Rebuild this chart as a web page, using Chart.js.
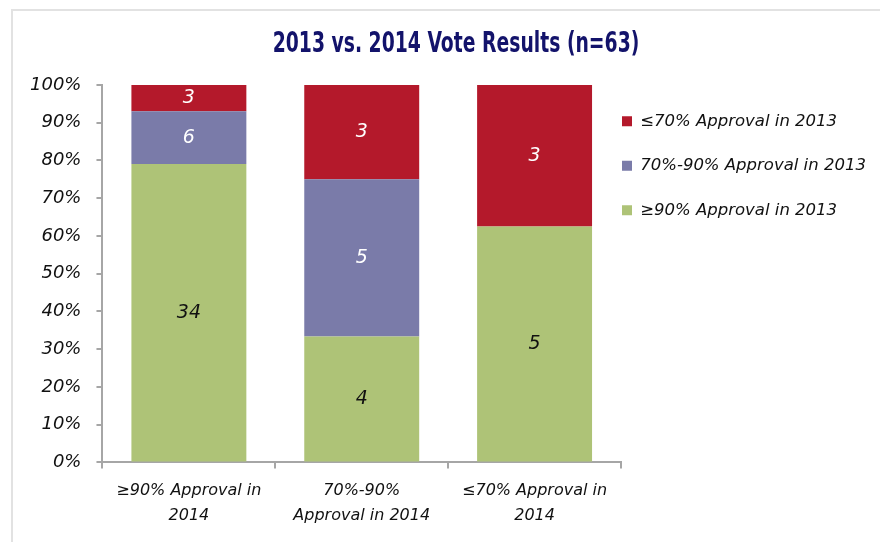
<!DOCTYPE html>
<html>
<head>
<meta charset="utf-8">
<script src="https://cdn.jsdelivr.net/npm/chart.js@4.4.1/dist/chart.umd.min.js"></script>
<style>
  html, body { margin: 0; padding: 0; background: #fff; }
  #wrap { position: relative; width: 880px; height: 542px; }
  #frame {
    position: absolute; left: 11px; top: 9px; right: 0; bottom: 0;
    border-top: 2px solid #e2e2e2; border-left: 2px solid #e2e2e2;
    pointer-events: none;
  }
  canvas { display: block; }
</style>
</head>
<body>
<div id="wrap">
  <canvas id="voteChart" width="880" height="542"></canvas>
  <div id="frame"></div>
</div>
<script>
/* =========================
    Data
========================= */
const chartTitle = '2013 vs. 2014 Vote Results (n=63)';
const categories = [
    ['≥90% Approval in', '2014'],
    ['70%-90%', 'Approval in 2014'],
    ['≤70% Approval in', '2014']
];
const seriesNames = ['≥90% Approval in 2013', '70%-90% Approval in 2013', '≤70% Approval in 2013'];
const countsHigh = [34, 4, 5];   // ≥90% in 2013
const countsMid = [6, 5, 0];     // 70%-90% in 2013
const countsLow = [3, 3, 3];     // ≤70% in 2013
const yTickValues = [0, 10, 20, 30, 40, 50, 60, 70, 80, 90, 100];

const colors = ['#aec377', '#7a7ba9', '#b4192b'];
const labelColors = ['#111', '#fff', '#fff'];

// 100% stacked: share of each column total
const totals = categories.map((c, i) => countsHigh[i] + countsMid[i] + countsLow[i]);
const toShare = arr => arr.map((v, i) => v / totals[i] * 100);

/* =========================
    Plugins
========================= */
// condensed bold title (no narrow-enough font installed, so squeeze it)
const condensedTitle = {
    id: 'condensedTitle',
    afterDraw(chart) {
        const ctx = chart.ctx;
        ctx.save();
        ctx.translate(456, 44);
        ctx.scale(0.72, 1);
        ctx.font = 'bold 29px "Liberation Sans Narrow", "DejaVu Sans Condensed", sans-serif';
        ctx.fillStyle = '#13136b';
        ctx.textAlign = 'center';
        ctx.textBaseline = 'middle';
        ctx.fillText(chartTitle, 0, 0);
        ctx.restore();
    }
};

// count labels in the middle of each segment
const segmentLabels = {
    id: 'segmentLabels',
    afterDatasetsDraw(chart) {
        const ctx = chart.ctx;
        ctx.save();
        ctx.font = 'italic 19px "DejaVu Sans"';
        ctx.textAlign = 'center';
        ctx.textBaseline = 'middle';
        chart.data.datasets.forEach((ds, di) => {
            const meta = chart.getDatasetMeta(di);
            meta.data.forEach((bar, i) => {
                const n = ds.counts[i];
                if (!n) return;
                const p = bar.getProps(['x', 'y', 'base'], true);
                ctx.fillStyle = labelColors[di];
                ctx.fillText(String(n), p.x, (p.y + p.base) / 2);
            });
        });
        ctx.restore();
    }
};

// pull the legend close to the end of the x axis
const legendNudge = {
    id: 'legendNudge',
    afterLayout(chart) {
        const lg = chart.legend;
        lg.left = chart.chartArea.right + 1 - lg.options.labels.padding;
    }
};

/* =========================
    Chart
========================= */
const axisGrey = '#a6a6a6';

new Chart(document.getElementById('voteChart'), {
    type: 'bar',
    data: {
        labels: categories,
        datasets: [
            { label: seriesNames[0], data: toShare(countsHigh), counts: countsHigh, backgroundColor: colors[0] },
            { label: seriesNames[1], data: toShare(countsMid), counts: countsMid, backgroundColor: colors[1] },
            { label: seriesNames[2], data: toShare(countsLow), counts: countsLow, backgroundColor: colors[2] }
        ]
    },
    options: {
        responsive: false,
        animation: false,
        devicePixelRatio: 1,
        barPercentage: 0.665,
        categoryPercentage: 1,
        layout: { padding: { left: 15, right: 0, top: 85, bottom: 4 } },
        font: { family: '"DejaVu Sans"', style: 'italic' },
        plugins: {
            title: { display: false },
            legend: {
                position: 'right',
                align: 'start',
                fullSize: false,
                reverse: true,
                maxWidth: 259,
                labels: {
                    boxWidth: 10,
                    boxHeight: 10,
                    padding: 28,
                    color: '#111',
                    font: { family: '"DejaVu Sans"', size: 16.5, style: 'italic' }
                }
            },
            tooltip: { enabled: false }
        },
        scales: {
            x: {
                stacked: true,
                grid: { display: true, drawOnChartArea: false, tickLength: 6, color: axisGrey, lineWidth: 2 },
                border: { color: axisGrey, width: 2 },
                ticks: {
                    color: '#111',
                    padding: 10,
                    maxRotation: 0,
                    font: { family: '"DejaVu Sans"', size: 16, style: 'italic', lineHeight: 1.55 }
                }
            },
            y: {
                stacked: true,
                min: 0,
                max: 100,
                afterBuildTicks(scale) {
                    scale.ticks = yTickValues.map(v => ({ value: v }));
                },
                grid: { display: true, drawOnChartArea: false, tickLength: 6, color: axisGrey, lineWidth: 2 },
                border: { color: axisGrey, width: 2 },
                ticks: {
                    color: '#111',
                    padding: 15,
                    callback: v => v + '%',
                    font: { family: '"DejaVu Sans"', size: 18, style: 'italic' }
                }
            }
        }
    },
    plugins: [segmentLabels, legendNudge, condensedTitle]
});
</script>
</body>
</html>
